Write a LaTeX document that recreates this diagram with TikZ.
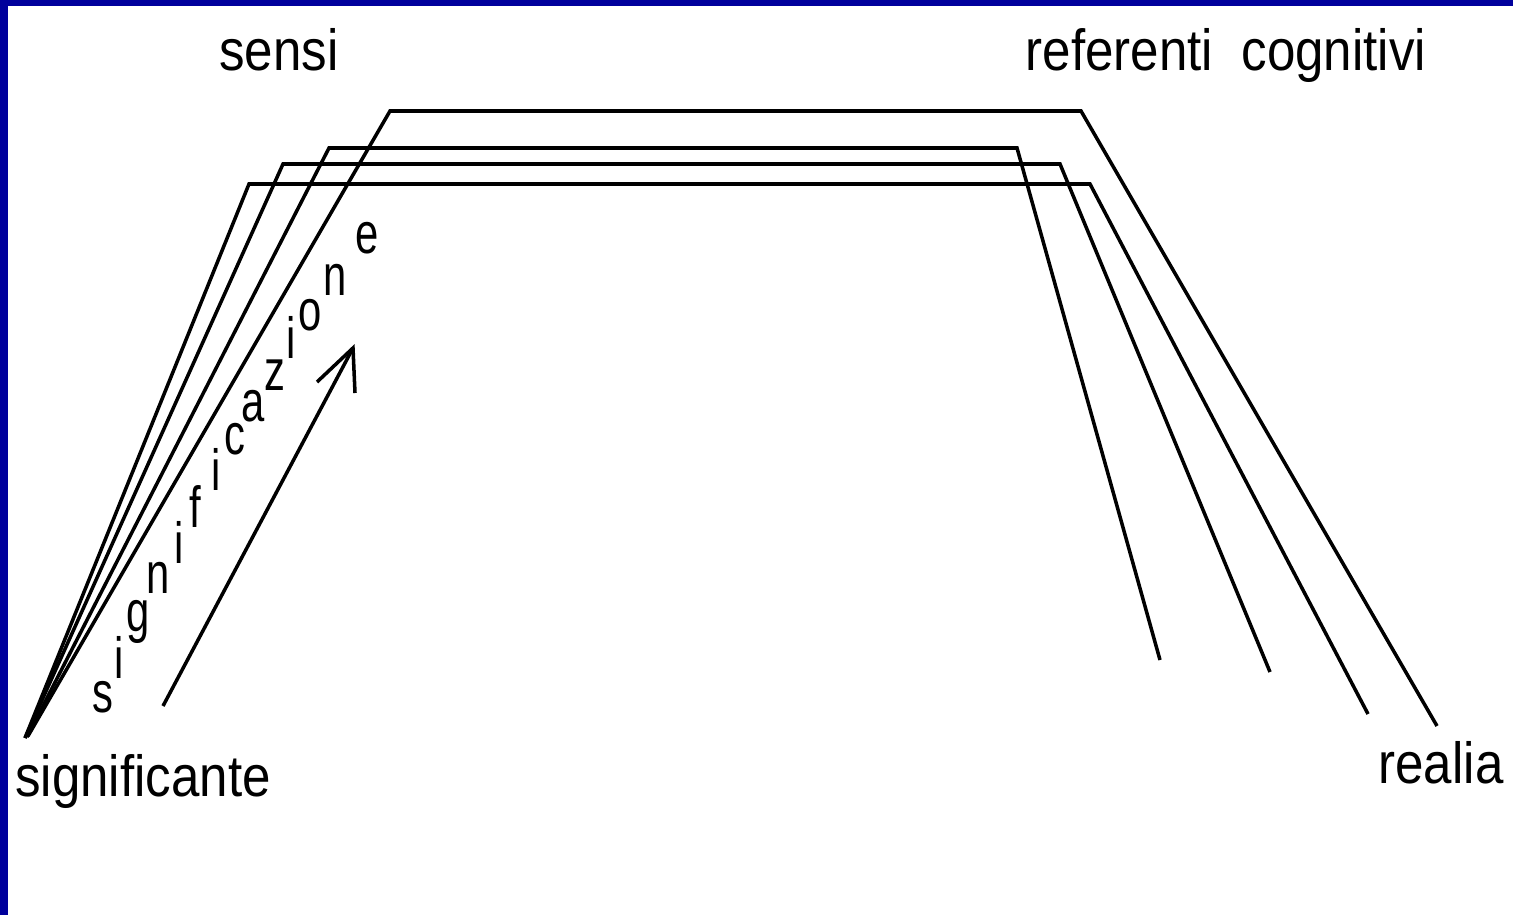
\documentclass[tikz,border=0pt]{standalone}
\usepackage{fontspec}
\setmainfont{Liberation Sans}
\newfontfamily\pixelfont[FakeStretch=0.88]{Liberation Sans}
\newfontfamily\stairfont[FakeStretch=0.72]{Liberation Sans}
\begin{document}
\begin{tikzpicture}[x=0.01cm, y=-0.01cm,
  word/.style={font=\pixelfont\fontsize{16.5}{19}\selectfont, inner sep=0pt, anchor=base},
  stair/.style={word, font=\stairfont\fontsize{16.5}{19}\selectfont},
  stroke/.style={draw=black, line width=1pt}]

\definecolor{frame blue}{RGB}{0,0,156}

\useasboundingbox[fill=white] (0,0) rectangle (1513,915);
\fill[frame blue] (0,0) rectangle (1513,6);
\fill[frame blue] (0,0) rectangle (8,915);

% labels
\node[word] (sensi) at (279,70) {sensi};
\node[word] (referenti) at (1226,70) {referenti\ \ cognitivi};
\node[word] (significante) at (143,796) {significante};
\node[word] (realia) at (1441,783) {realia};

% the word climbing along the arrow
\foreach \ch/\x/\y [count=\i] in {s/103/712, i/119/678, g/138/631, n/158/593,
    i/179/563, f/195/527, i/216/490, c/235/454, a/253/421, z/275/390,
    i/291/358, o/310/330, n/335/295, e/367/253}
  \node[stair] (letter\i) at (\x,\y) {\ch};

% four paths from the signifier to the realia
\draw[stroke] (28,736) -- (390,111) -- (1081,111) -- (1437,726);
\draw[stroke] (27,737) -- (329,148) -- (1017,148) -- (1160,660);
\draw[stroke] (25,738) -- (283,164) -- (1060,164) -- (1270,672);
\draw[stroke] (25,738) -- (249,184) -- (1090,184) -- (1368,714);

% arrow
\coordinate (tip) at (353,348);
\draw[stroke] (163,706) -- (tip);
\draw[stroke] (317,382) -- (tip) -- (355,393);
\end{tikzpicture}
\end{document}
